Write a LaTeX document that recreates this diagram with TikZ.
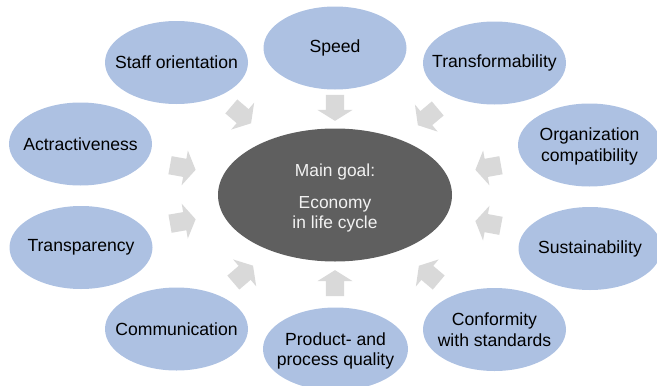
\documentclass[tikz,border=0pt]{standalone}
\usepackage{fontspec}
\setmainfont{Liberation Sans}
\usetikzlibrary{shapes.geometric,shapes.arrows}
\definecolor{factorblue}{RGB}{173,193,226}
\definecolor{goalgray}{RGB}{95,95,95}
\definecolor{arrowgray}{RGB}{217,217,217}
\begin{document}
\begin{tikzpicture}[x=1pt,y=-1pt,
  factor/.style={ellipse, fill=factorblue, minimum width=143pt, minimum height=83pt,
    inner sep=-16pt, align=center, text=black, font=\fontsize{17.6}{20.5}\selectfont},
  goal/.style={ellipse, fill=goalgray, minimum width=234pt, minimum height=133pt,
    inner sep=0pt, align=center, text=white!95!black, font=\fontsize{17.4}{20.5}\selectfont},
  flow/.style={single arrow, fill=arrowgray, minimum height=26pt,
    single arrow head extend=8.5pt, single arrow tip angle=116,
    inner xsep=0pt, inner ysep=9pt}]
\useasboundingbox (0,0) rectangle (657,386);
\clip (0,0) rectangle (657,386);
% main goal
\node[goal] (main) at (335,195) {\rule{0pt}{19.5pt}Main goal:\\[11pt]Economy\\in life cycle};
% factors
\node[factor] (speed) at (335,48) {Speed};
\node[factor] (transf) at (494.5,63) {Transformability};
\node[factor] (orga) at (589.5,145) {\rule{0pt}{16pt}Organization\\compatibility};
\node[factor] (sust) at (590,248.5) {Sustainability};
\node[factor] (conf) at (494.5,329.5) {Conformity\\with standards};
\node[factor, minimum width=145pt] (qual) at (335.5,349) {\rule{0pt}{17pt}Product- and\\process quality};
\node[factor] (comm) at (176.5,329) {Communication};
\node[factor] (transp) at (81,247.5) {Transparency};
\node[factor] (attr) at (80.5,144) {Actractiveness};
\node[factor] (staff) at (176.5,62.5) {Staff orientation};
% arrows towards the main goal
\node[flow, rotate=-90] (a1) at (335,105) {};
\node[flow, rotate=-139.9] (a2) at (430,115) {};
\node[flow, rotate=-169.8] (a3) at (491,167) {};
\node[flow, rotate=169.5] (a4) at (491,224) {};
\node[flow, rotate=139.8] (a5) at (431,276) {};
\node[flow, rotate=90] (a6) at (335,286) {};
\node[flow, rotate=40.7] (a7) at (241,276) {};
\node[flow, rotate=9.9] (a8) at (180,222) {};
\node[flow, rotate=-10.2] (a9) at (180,167) {};
\node[flow, rotate=-40.5] (a10) at (239,113) {};
\end{tikzpicture}
\end{document}
